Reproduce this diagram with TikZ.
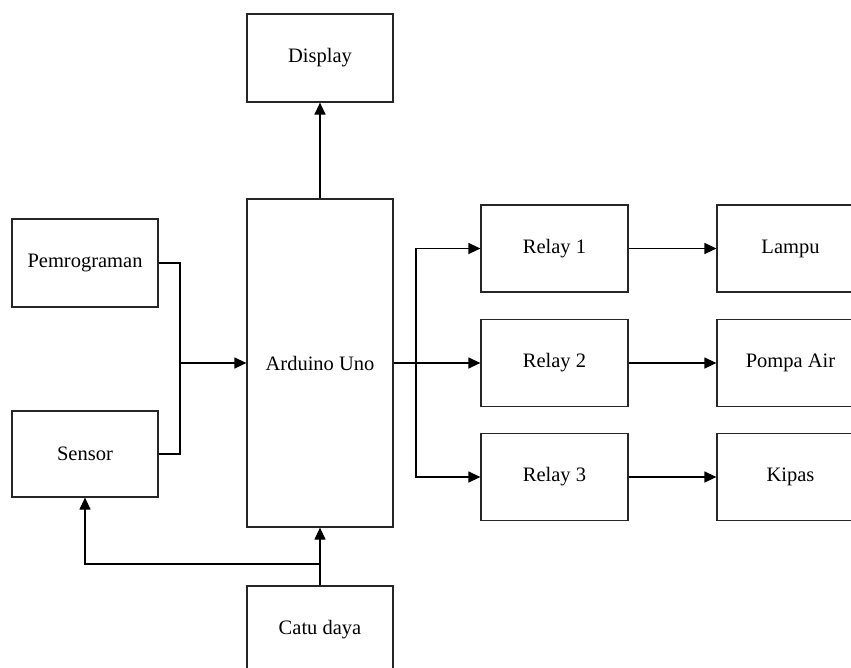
\documentclass[tikz,border=0pt]{standalone}
\usepackage{fontspec}
\setmainfont{Liberation Serif}
\usetikzlibrary{arrows.meta}
\begin{document}
\begin{tikzpicture}[x=1pt,y=-1pt,
  blk/.style={draw=black!85,line width=1.2pt,fill=white,minimum width=146pt,minimum height=88pt,inner sep=0pt,font=\fontsize{20.5}{24}\selectfont},
  conn/.style={draw=black,line width=1.2pt},
  arr/.style={conn,-{Triangle[length=12pt,width=11pt]}}]
\useasboundingbox (0,0) rectangle (851,667);
\clip (0,0) rectangle (851,667);
\fill[white] (0,0) rectangle (851,667);
\node[blk] (disp) at (320,58) {Display};
\node[blk,minimum height=328pt] (ard) at (320,363) {Arduino Uno};
\node[blk] (pem) at (85,263) {Pemrograman};
\node[blk,minimum height=86pt] (sen) at (85,454) {Sensor};
\node[blk,minimum width=147pt,minimum height=87pt] (r1) at (554.5,248.5) {Relay 1};
\node[blk,minimum width=147pt,minimum height=87pt] (r2) at (554.5,363) {Relay 2};
\node[blk,minimum width=147pt,minimum height=87pt] (r3) at (554.5,477) {Relay 3};
\node[blk,minimum width=147pt,minimum height=87pt] (lampu) at (790.5,248.5) {Lampu};
\node[blk,minimum width=147pt,minimum height=87pt] (pompa) at (790.5,363) {Pompa Air};
\node[blk,minimum width=147pt,minimum height=87pt] (kipas) at (790.5,477) {Kipas};
\node[blk] (catu) at (320,630) {Catu daya};
\coordinate (jn) at (180,363);
\coordinate (br) at (416,363);
\coordinate (cp) at (320,564);
\draw[conn] (pem.east) -| (jn);
\draw[conn] (sen.east) -| (jn);
\draw[arr] (jn) -- (ard.west);
\draw[arr] (ard.east) -- (r2.west);
\draw[arr] (br) |- (r1.west);
\draw[arr] (br) |- (r3.west);
\draw[arr] (r1.east) -- (lampu.west);
\draw[arr] (r2.east) -- (pompa.west);
\draw[arr] (r3.east) -- (kipas.west);
\draw[arr] (ard.north) -- (disp.south);
\draw[arr] (catu.north) -- (ard.south);
\draw[arr] (cp) -| (sen.south);
\end{tikzpicture}
\end{document}
